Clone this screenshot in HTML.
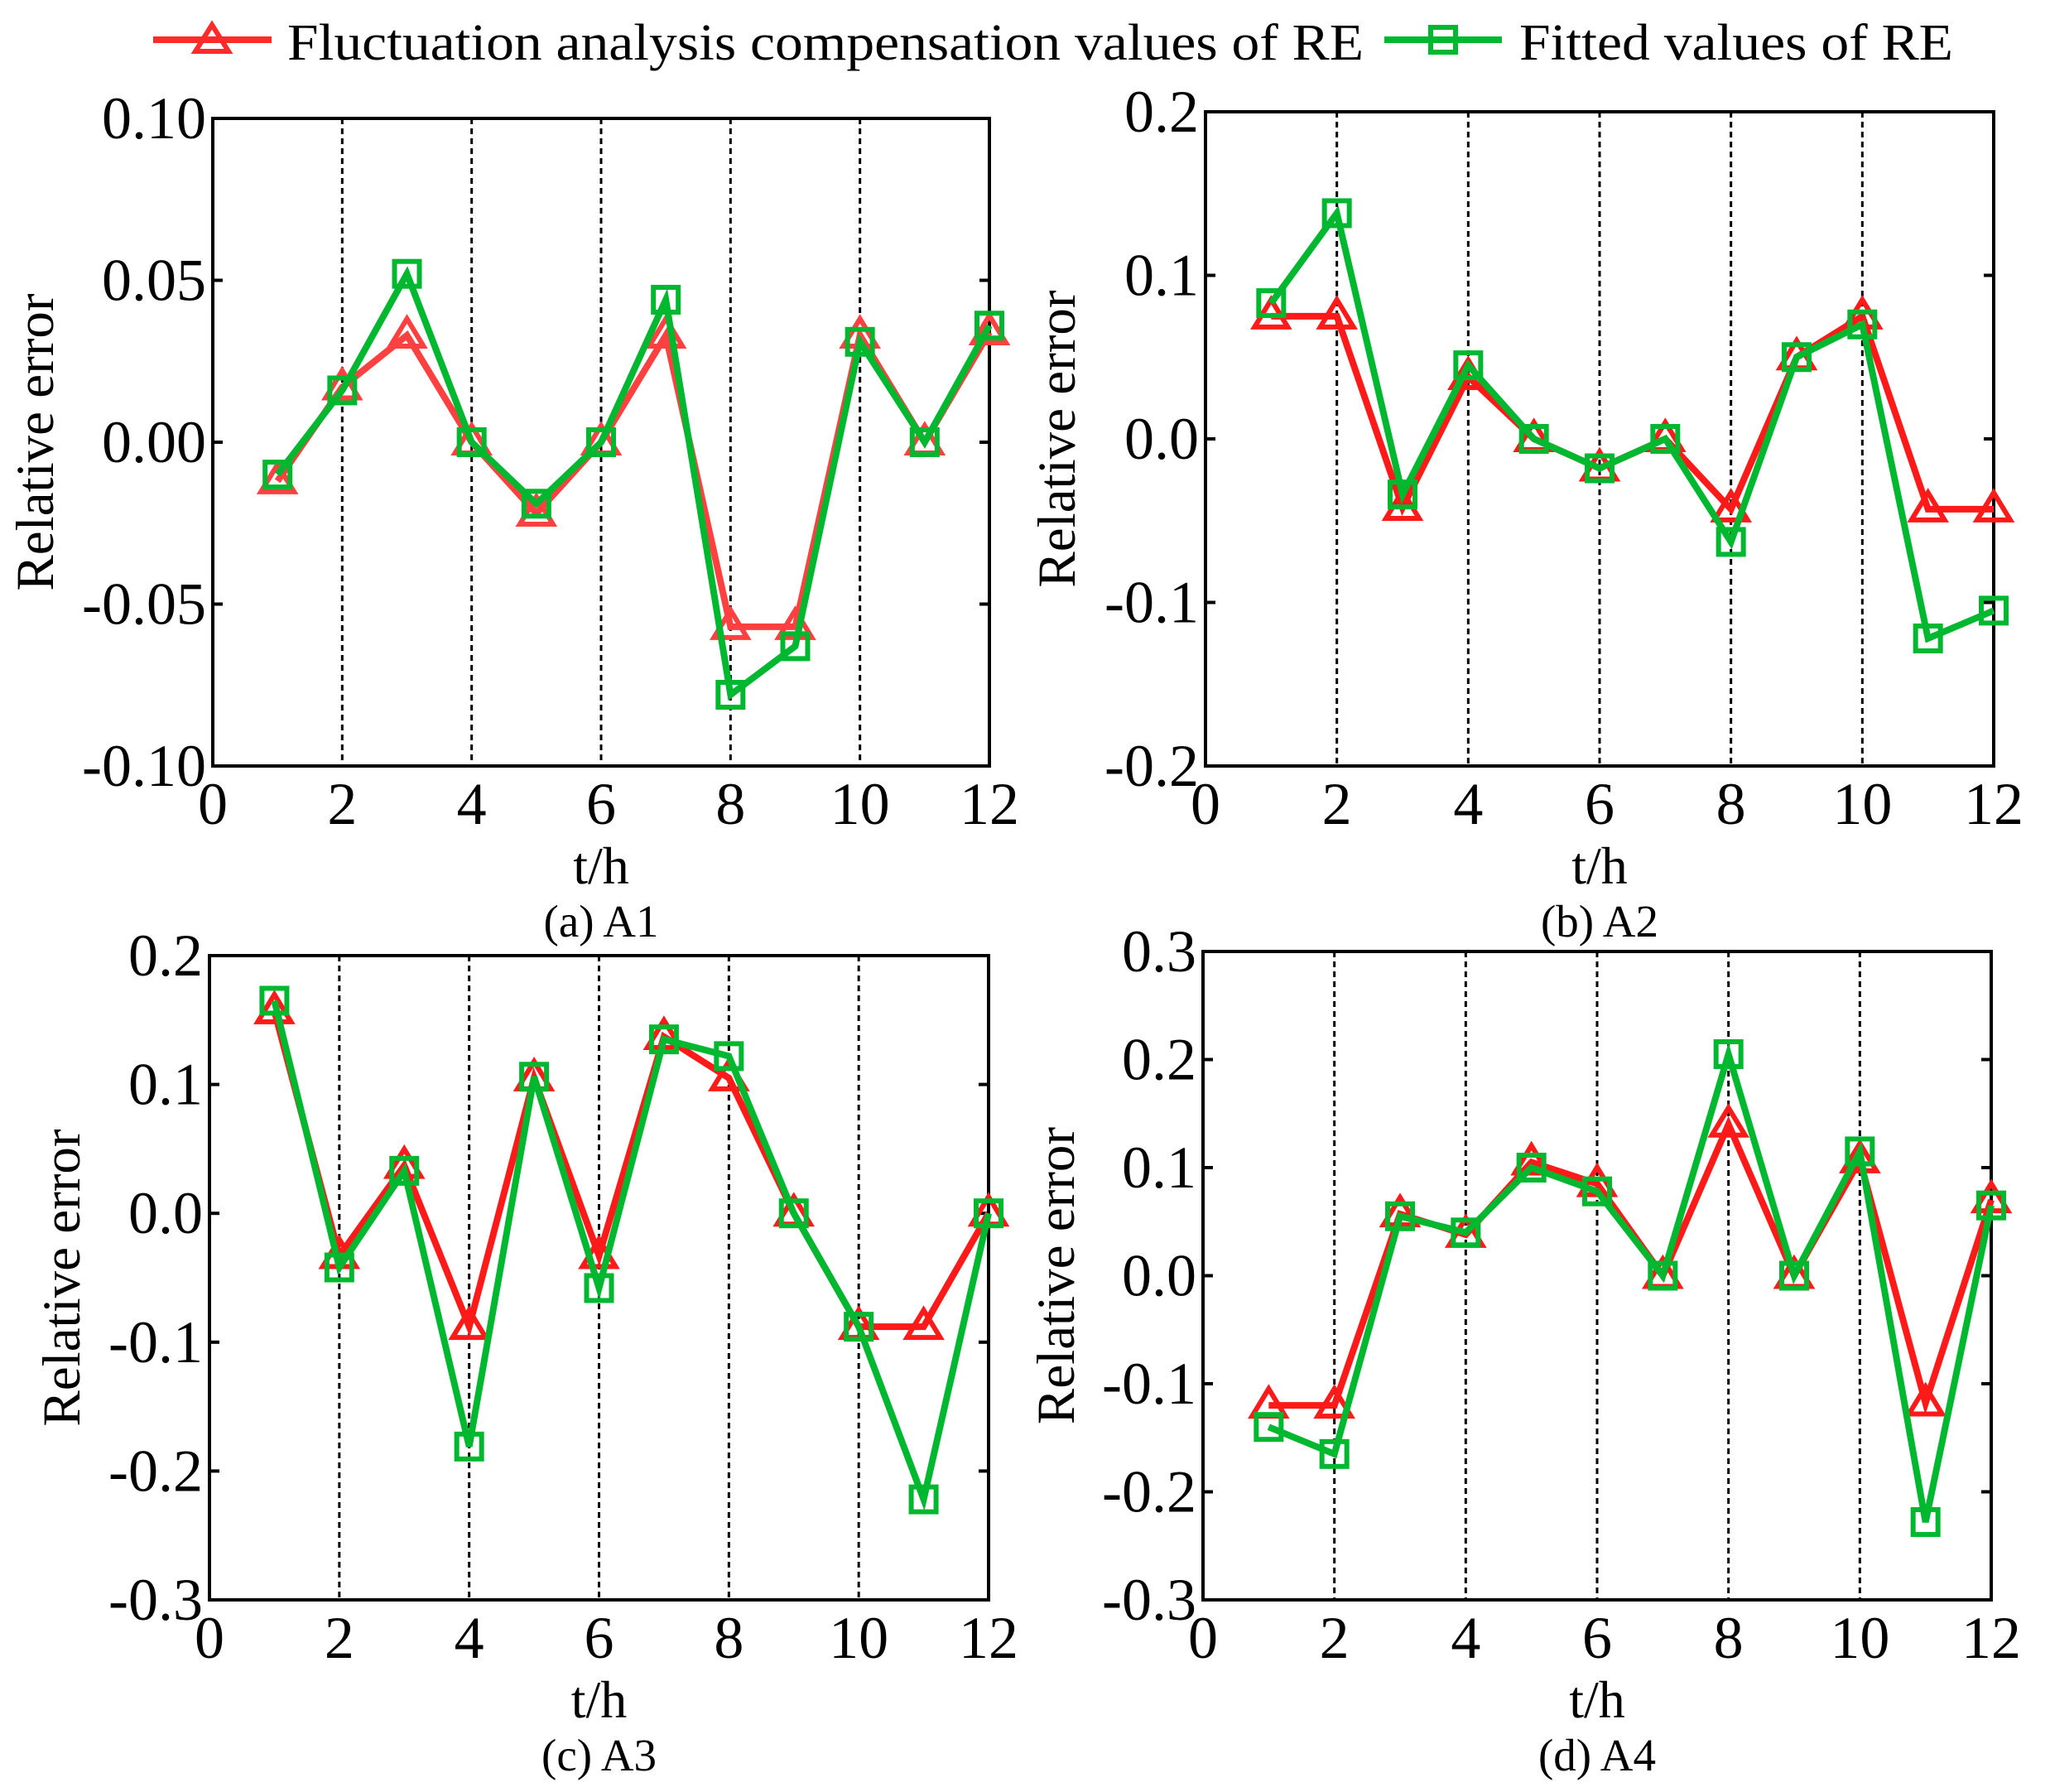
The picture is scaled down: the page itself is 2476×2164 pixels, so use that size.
<!DOCTYPE html>
<html><head><meta charset="utf-8"><style>
html,body{margin:0;padding:0;background:#fff}
svg{display:block}
text{font-family:"Liberation Serif",serif;fill:#000}
</style></head><body>
<svg id="fig" width="2476" height="2164" viewBox="0 0 2476 2164" xmlns="http://www.w3.org/2000/svg">
<g>
 <g>
  <line x1="185" y1="48" x2="328" y2="48" stroke="#ff2a2a" stroke-width="8"/>
  <polygon points="256,30 276,62 236,62" fill="none" stroke="#ff2a2a" stroke-width="6"/>
  <text x="347" y="72" font-size="62" textLength="1300" lengthAdjust="spacingAndGlyphs">Fluctuation analysis compensation values of RE</text>
 </g>
 <g>
  <line x1="1672" y1="48" x2="1814" y2="48" stroke="#00b830" stroke-width="8"/>
  <rect x="1728" y="33" width="30" height="30" fill="none" stroke="#00b830" stroke-width="6"/>
  <text x="1835" y="72" font-size="62" textLength="524" lengthAdjust="spacingAndGlyphs">Fitted values of RE</text>
 </g>
</g>
</svg>
<script>
const hours = [1,2,3,4,5,6,7,8,9,10,11,12];
const a1Comp = [-0.012,0.017,0.033,0,-0.022,0,0.033,-0.057,-0.057,0.033,0,0.034];
const a1Fit  = [-0.010,0.016,0.052,0,-0.019,0,0.044,-0.078,-0.063,0.031,0,0.036];
const a2Comp = [0.075,0.075,-0.042,0.038,0,-0.018,0,-0.043,0.050,0.075,-0.043,-0.043];
const a2Fit  = [0.083,0.138,-0.034,0.045,0,-0.018,0,-0.063,0.050,0.070,-0.122,-0.105];
const a3Comp = [0.157,-0.033,0.037,-0.088,0.105,-0.033,0.137,0.105,0,-0.088,-0.088,0];
const a3Fit  = [0.165,-0.042,0.033,-0.181,0.106,-0.058,0.135,0.122,0,-0.088,-0.222,0];
const a4Comp = [-0.120,-0.120,0.057,0.038,0.105,0.085,0,0.140,0,0.107,-0.118,0.070];
const a4Fit  = [-0.140,-0.165,0.055,0.040,0.100,0.078,0,0.205,0,0.115,-0.228,0.065];
const xTicks = [0,2,4,6,8,10,12];
const yTicksA1 = ["0.10","0.05","0.00","-0.05","-0.10"];
const yTicksA2 = ["0.2","0.1","0.0","-0.1","-0.2"];
const yTicksA3 = ["0.2","0.1","0.0","-0.1","-0.2","-0.3"];
const yTicksA4 = ["0.3","0.2","0.1","0.0","-0.1","-0.2","-0.3"];
const captions = ["(a) A1","(b) A2","(c) A3","(d) A4"];

const NS="http://www.w3.org/2000/svg";
const svg=document.getElementById('fig');
function mk(tag,attrs,parent){const e=document.createElementNS(NS,tag);for(const k in attrs)e.setAttribute(k,attrs[k]);(parent||svg).appendChild(e);return e;}

const panels=[
 {L:257,R:1195,T:143,B:925,yt:yTicksA1,comp:a1Comp,fit:a1Fit,red:"#ff4040",ylx:43,id:"a1"},
 {L:1456,R:2408,T:135,B:925,yt:yTicksA2,comp:a2Comp,fit:a2Fit,red:"#ff1a1a",ylx:1277,id:"a2"},
 {L:253,R:1194,T:1154,B:1932,yt:yTicksA3,comp:a3Comp,fit:a3Fit,red:"#ff1a1a",ylx:75,id:"a3"},
 {L:1453,R:2405,T:1149,B:1932,yt:yTicksA4,comp:a4Comp,fit:a4Fit,red:"#ff1a1a",ylx:1276,id:"a4"}
];

panels.forEach((p,pi)=>{
 const g=mk('g',{});
 
 
 const ymax=parseFloat(p.yt[0]), ymin=parseFloat(p.yt[p.yt.length-1]);
 const xs=v=>p.L+(v-0)/(12-0)*(p.R-p.L);
 const ys=v=>p.B-(v-ymin)/(ymax-ymin)*(p.B-p.T);
 xTicks.forEach(t=>{
  if(t>0&&t<12){const l=mk('line',{x1:xs(t),x2:xs(t),y1:p.T,y2:p.B,stroke:'#000','stroke-width':3,'stroke-dasharray':'7,5'},g);
   
   }
  const tx=mk('text',{x:xs(t),y:p.B+70,'font-size':72,'text-anchor':'middle'},g);
  tx.textContent=t;
  
  
 });
 p.yt.forEach(s=>{
  const v=parseFloat(s), y=ys(v);
  mk('line',{x1:p.L,x2:p.L+12,y1:y,y2:y,stroke:'#000','stroke-width':4},g);
  mk('line',{x1:p.R-12,x2:p.R,y1:y,y2:y,stroke:'#000','stroke-width':4},g);
  const tx=mk('text',{x:p.L-8,y:y+24,'font-size':72,'text-anchor':'end'},g);
  tx.textContent=s;
  
  
 });
 const fr=mk('rect',{x:p.L,y:p.T,width:p.R-p.L,height:p.B-p.T,fill:'none',stroke:'#000','stroke-width':4},g);
 
 
 const pts=arr=>arr.map((v,i)=>xs(hours[i])+','+ys(v)).join(' ');
 const lc=mk('polyline',{points:pts(p.comp),fill:'none',stroke:p.red,'stroke-width':8,'stroke-linejoin':'miter'},g);
 
 
 p.comp.forEach((v,i)=>{const x=xs(hours[i]),y=ys(v);
  const m=mk('polygon',{points:`${x},${y-20} ${x+20},${y+13} ${x-20},${y+13}`,fill:'none',stroke:p.red,'stroke-width':6},g);
  
  });
 const lf=mk('polyline',{points:pts(p.fit),fill:'none',stroke:'#00b830','stroke-width':8},g);
 
 
 p.fit.forEach((v,i)=>{const x=xs(hours[i]),y=ys(v);
  const m=mk('rect',{x:x-15,y:y-15,width:30,height:30,fill:'none',stroke:'#00b830','stroke-width':6},g);
  
  });
 const cy=(p.T+p.B)/2, cx=(p.L+p.R)/2;
 const yl=mk('text',{x:p.ylx,y:cy,'font-size':65,'text-anchor':'middle',transform:`rotate(-90 ${p.ylx} ${cy})`,'dominant-baseline':'central'},g);
 yl.textContent='Relative error';
 
 
 const xl=mk('text',{x:cx,y:p.B+142,'font-size':64,'text-anchor':'middle'},g);
 xl.textContent='t/h';
 
 
 const cp=mk('text',{x:cx,y:p.B+206,'font-size':55,'text-anchor':'middle'},g);
 cp.textContent=captions[pi];
 
 
});
</script>
</body></html>
